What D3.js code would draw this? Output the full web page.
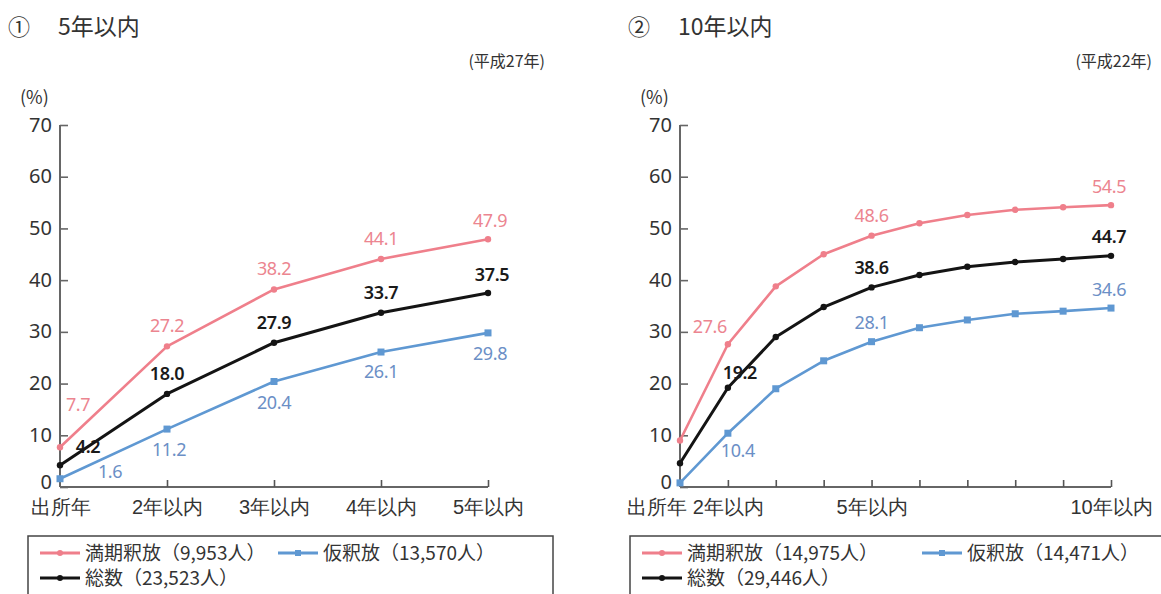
<!DOCTYPE html>
<html><head><meta charset="utf-8">
<script src="https://cdn.jsdelivr.net/npm/d3@7"></script>
<style>
html,body{margin:0;padding:0;background:#fff;}
svg{display:block;font-family:"Noto Sans CJK JP","Noto Sans",sans-serif;}
</style></head>
<body>
<svg id="c" width="1161" height="594"></svg>
<script>
// ---- data ----
const cats1 = ["出所年","2年以内","3年以内","4年以内","5年以内"];
const tickLabels1 = ["出所年","2年以内","3年以内","4年以内","5年以内"];
const manki1 = [7.7, 27.2, 38.2, 44.1, 47.9];
const total1 = [4.2, 18.0, 27.9, 33.7, 37.5];
const kari1  = [1.6, 11.2, 20.4, 26.1, 29.8];

const cats2 = ["出所年","2年以内","3年以内","4年以内","5年以内","6年以内","7年以内","8年以内","9年以内","10年以内"];
const tickLabels2 = ["出所年","2年以内","","","5年以内","","","","","10年以内"];
const manki2 = [9.0, 27.6, 38.8, 45.0, 48.6, 51.0, 52.6, 53.6, 54.1, 54.5];
const total2 = [4.6, 19.2, 29.0, 34.8, 38.6, 41.0, 42.6, 43.5, 44.1, 44.7];
const kari2  = [0.8, 10.4, 19.0, 24.4, 28.1, 30.8, 32.3, 33.5, 34.0, 34.6];

const legend1 = ["満期釈放（9,953人）","仮釈放（13,570人）","総数（23,523人）"];
const legend2 = ["満期釈放（14,975人）","仮釈放（14,471人）","総数（29,446人）"];
const yTicks = [0,10,20,30,40,50,60,70];

// ---- styles ----
const RED="#ef7f8b", BLUE="#5f98d2", BLACK="#141414";
const RED_T="#ec8590", BLUE_T="#6b8fc6", BLACK_T="#1a1a1a";
const svg = d3.select("#c");

function drawChart(o){
  const g = svg.append("g");
  const y = d3.scaleLinear().domain([0,70]).range([487,125]);
  const x = d3.scalePoint().domain(o.cats).range([o.x0,o.x1]);

  // title
  g.append("text").attr("x",o.titleX).attr("y",35).attr("font-size",22).attr("fill","#333").text(o.title[0]);
  g.append("text").attr("x",o.titleX+o.titleGap).attr("y",35).attr("font-size",23).attr("fill","#333").text(o.title[1]);
  g.append("text").attr("x",o.yearX).attr("y",67).attr("text-anchor","end").attr("font-size",16).attr("fill","#333").text(o.year);
  g.append("text").attr("x",o.x0-40).attr("y",104).attr("font-size",18).attr("fill","#333").text("(%)");

  // y axis
  const ya = d3.axisLeft(y).tickValues(yTicks).tickSize(-8).tickPadding(8).tickFormat(d3.format("d"));
  const yg = g.append("g").attr("transform",`translate(${o.x0},0)`).call(ya);
  yg.select(".domain").attr("stroke","#666").attr("stroke-width",2).attr("d",`M0,${y(70)}V${y(0)}`);
  yg.selectAll(".tick line").attr("stroke","#666").attr("stroke-width",1.6);
  yg.selectAll(".tick text").attr("font-size",20).attr("fill","#333").attr("font-family","Noto Sans, sans-serif")
    .attr("dy",(d)=> d===0 ? "0.05em" : "0.3em");

  // x axis
  const xa = d3.axisBottom(x).tickSize(-7).tickPadding(12).tickFormat((d,i)=>o.tickLabels[i]);
  const xg = g.append("g").attr("transform",`translate(0,${y(0)})`).call(xa);
  xg.select(".domain").attr("stroke","#666").attr("stroke-width",2).attr("d",`M${o.x0},0H${o.x1}`);
  xg.selectAll(".tick line").attr("stroke","#555").attr("stroke-width",1.6);
  xg.selectAll(".tick line").filter((d,i)=>i===0).remove();
  xg.selectAll(".tick text").attr("font-size",20).attr("fill","#333").attr("dy","0.75em")
    .attr("dx",(d,i)=> i===0 ? o.firstLabelDx : 0);

  const line = d3.line().x((d,i)=>x(o.cats[i])).y(d=>y(d));
  const series = [
    {v:o.manki, c:RED, tc:RED_T, w:2.6, m:"circle", lab:o.labR},
    {v:o.kari, c:BLUE, tc:BLUE_T, w:2.6, m:"rect", lab:o.labB},
    {v:o.total, c:BLACK, tc:BLACK_T, w:3, m:"circle", lab:o.labK}
  ];
  series.forEach(s=>{
    g.append("path").datum(s.v).attr("d",line).attr("fill","none").attr("stroke",s.c).attr("stroke-width",s.w).attr("stroke-linejoin","round");
    if(s.m==="rect"){
      g.selectAll(null).data(s.v).enter().append("rect")
        .attr("x",(d,i)=>x(o.cats[i])-3.5).attr("y",d=>y(d)-3.5).attr("width",7).attr("height",7).attr("fill",s.c);
    } else {
      g.selectAll(null).data(s.v).enter().append("circle")
        .attr("cx",(d,i)=>x(o.cats[i])).attr("cy",d=>y(d)).attr("r",3.2).attr("fill",s.c);
    }
    Object.keys(s.lab).forEach(k=>{
      const i=+k, off=s.lab[k];
      g.append("text").attr("x",x(o.cats[i])+off[0]).attr("y",y(s.v[i])+off[1])
        .attr("text-anchor","middle").attr("font-size",18).attr("fill",s.tc)
        .attr("font-family","Noto Sans, sans-serif").attr("letter-spacing","-0.4")
        .attr("font-weight", s.c===BLACK?"600":"400")
        .text(d3.format(".1f")(s.v[i]));
    });
  });

  // legend
  const lg = g.append("g");
  lg.append("rect").attr("x",o.lx).attr("y",536).attr("width",o.lw).attr("height",70)
    .attr("fill","none").attr("stroke","#444").attr("stroke-width",1.5);
  const items = [
    {t:o.legend[0], c:RED, m:"circle", x:o.lx+12, y:553},
    {t:o.legend[1], c:BLUE, m:"rect", x:o.lx+o.l2dx, y:553},
    {t:o.legend[2], c:BLACK, m:"circle", x:o.lx+12, y:578}
  ];
  items.forEach(it=>{
    lg.append("line").attr("x1",it.x).attr("x2",it.x+40).attr("y1",it.y).attr("y2",it.y).attr("stroke",it.c).attr("stroke-width",3);
    if(it.m==="rect") lg.append("rect").attr("x",it.x+17).attr("y",it.y-3).attr("width",6).attr("height",6).attr("fill",it.c);
    else lg.append("circle").attr("cx",it.x+20).attr("cy",it.y).attr("r",3).attr("fill",it.c);
    lg.append("text").attr("x",it.x+45).attr("y",it.y+7).attr("font-size",19).attr("fill","#333").text(it.t);
  });
}

drawChart({
  title:["①","5年以内"], titleX:8, titleGap:50, year:"(平成27年)", yearX:545,
  cats:cats1, tickLabels:tickLabels1, x0:60, x1:488, firstLabelDx:0,
  manki:manki1, total:total1, kari:kari1,
  labR:{0:[18,-36],1:[0,-14],2:[0,-14],3:[0,-14],4:[2,-12]},
  labK:{0:[28,-12],1:[0,-14],2:[0,-14],3:[0,-14],4:[4,-12]},
  labB:{0:[50,-1],1:[2,27],2:[0,27],3:[0,26],4:[2,27]},
  legend:legend1, lx:28, lw:525, l2dx:250
});
drawChart({
  title:["②","10年以内"], titleX:628, titleGap:50, year:"(平成22年)", yearX:1152,
  cats:cats2, tickLabels:tickLabels2, x0:680, x1:1111, firstLabelDx:-24,
  manki:manki2, total:total2, kari:kari2,
  labR:{1:[-18,-11],4:[0,-14],9:[-2,-12]},
  labK:{1:[12,-9],4:[0,-13],9:[-2,-13]},
  labB:{1:[10,24],4:[0,-13],9:[-2,-12]},
  legend:legend2, lx:630, lw:560, l2dx:292
});
</script>
</body></html>
